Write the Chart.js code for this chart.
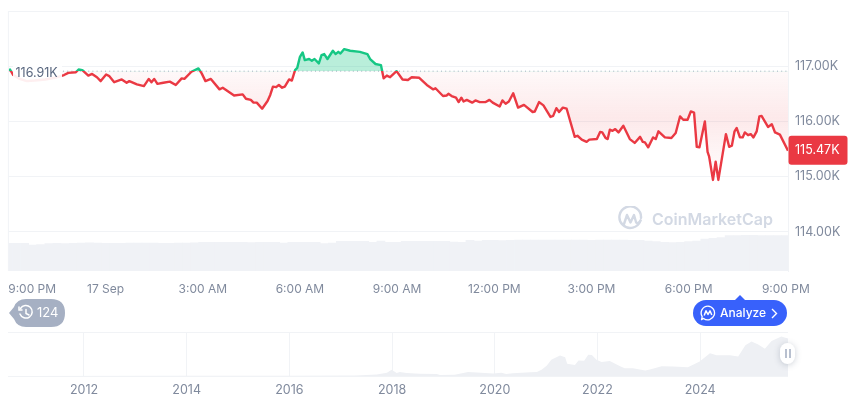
<!DOCTYPE html>
<html>
<head>
<meta charset="utf-8">
<script src="https://cdn.jsdelivr.net/npm/chart.js@4"></script>
<style>
  body { margin:0; background:#fff; width:860px; height:401px; overflow:hidden; position:relative; font-family:Inter,sans-serif; }
  canvas { position:absolute; left:0; display:block; }
  #priceChart { top:0; }
  #historyChart { top:300px; }
  .abs { position:absolute; }
  #watermark { left:617px; top:205px; height:27px; display:flex; align-items:center; gap:9px; color:#d3d9e4; font-size:16px; font-weight:600; white-space:nowrap; }
  #badge { left:9px; top:299px; width:56px; height:28px; }
  #badgeText { left:37px; top:299px; line-height:27px; color:#fff; font-size:13px; }
  #analyze { left:693px; top:300px; width:94px; height:26px; border-radius:13px; background:#3861fb; color:#fff; font-size:12px; font-weight:500; line-height:26px; }
  #analyze span { position:absolute; left:27px; }
  #caret { left:735px; top:295px; width:0; height:0; border-left:5px solid transparent; border-right:5px solid transparent; border-bottom:5px solid #3861fb; }
  #handle { left:780px; top:343px; width:15px; height:21px; border-radius:8px; background:#fff; box-shadow:0 1px 6px rgba(88,102,126,.3); }
  #handle i { position:absolute; top:6px; width:2px; height:9px; background:#b8c0cf; }
</style>
</head>
<body>
<canvas id="priceChart" width="860" height="300"></canvas>
<canvas id="historyChart" width="860" height="101"></canvas>

<div id="watermark" class="abs">
  <svg width="26" height="26" viewBox="0 0 26 26" fill="none" stroke="#d3d9e4" stroke-width="2.4" stroke-linecap="round" stroke-linejoin="round"><path d="M23.5 14.5A10.8 10.8 0 1 1 24 12"/><path d="M7 18l3-9 3.5 7.5L17 9l2 7c.8 2 3 1.5 4.5-1.5"/></svg>
  <span>CoinMarketCap</span>
</div>

<svg id="badge" class="abs" viewBox="0 0 56 28"><path d="M0 14L5 8Q8 0 17 0H42Q56 0 56 14T42 28H17Q8 28 5 20Z" fill="#a6b0c3"/><g fill="none" stroke="#fff" stroke-width="1.5" stroke-linecap="round"><path d="M11.5 9.5A6.3 6.3 0 1 1 11 15"/><path d="M17 10.5V14.5L20 16"/><path d="M10 8V11H13"/></g></svg>
<div id="badgeText" class="abs">124</div>

<div id="caret" class="abs"></div>
<div id="analyze" class="abs">
  <svg class="abs" style="left:7px;top:5px" width="16" height="16" viewBox="0 0 16 16" fill="none" stroke="#fff" stroke-width="1.3" stroke-linejoin="round"><path d="M8 1.2A6.8 6.8 0 1 1 3.6 13.4L1.5 14.6 2.2 11.6A6.8 6.8 0 0 1 8 1.2Z"/><path d="M4.2 10.5L6 5.8 8 9.5 10 5.8 11.8 10" stroke-width="1.5"/></svg>
  <span>Analyze</span>
  <svg class="abs" style="left:77px;top:8px" width="8" height="11" viewBox="0 0 8 11" fill="none" stroke="#fff" stroke-width="1.4"><path d="M2 1l4.5 4.5L2 10"/></svg>
</div>

<div id="handle" class="abs"><i style="left:5px"></i><i style="left:8.5px"></i></div>

<script>
// minutes since 9:00 PM
const priceMinutes = [0,3,9,21,34,49,68,86,97,103,111,125,130,137,148,155,164,171,181,187,196,210,219,224,238,251,260,265,270,276,287,299,310,321,326,339,352,358,365,375,391,397,418,434,440,449,454,460,470,480,485,490,496,501,507,512,520,525,531,535,540,545,549,557,562,567,575,580,585,591,601,606,611,615,622,633,651,665,670,680,690,695,701,707,719,730,740,747,761,775,787,791,805,812,815,821,829,834,839,843,849,859,865,873,884,891,897,910,915,921,927,935,944,955,971,975,983,991,1004,1009,1015,1020,1027,1034,1049,1054,1062,1071,1076,1090,1096,1100,1106,1110,1114,1119,1124,1130,1139,1151,1160,1170,1175,1179,1185,1194,1199,1204,1216,1228,1236,1244,1250,1258,1264,1270,1275,1280,1290,1295,1298,1305,1310,1315,1329,1335,1340,1345,1349,1355,1360,1364,1370,1375,1380,1386,1391,1395,1407,1414,1420,1429,1444];
// price in thousands
const priceValues = [116.93,116.94,116.84,116.77,116.73,116.74,116.76,116.79,116.82,116.84,116.88,116.89,116.94,116.93,116.83,116.86,116.80,116.73,116.85,116.82,116.71,116.76,116.70,116.73,116.67,116.64,116.77,116.71,116.77,116.68,116.70,116.72,116.66,116.78,116.77,116.90,116.96,116.87,116.73,116.77,116.58,116.61,116.47,116.49,116.41,116.39,116.34,116.34,116.23,116.37,116.48,116.63,116.62,116.66,116.61,116.63,116.76,116.74,116.93,116.97,117.17,117.25,117.11,117.13,117.10,117.13,117.05,117.20,117.22,117.13,117.28,117.22,117.26,117.23,117.31,117.28,117.26,117.22,117.13,117.04,117.02,116.78,116.83,116.80,116.91,116.76,116.75,116.80,116.79,116.66,116.58,116.60,116.46,116.47,116.50,116.46,116.43,116.35,116.43,116.36,116.39,116.34,116.38,116.35,116.35,116.39,116.34,116.27,116.38,116.32,116.36,116.51,116.25,116.30,116.17,116.18,116.35,116.29,116.08,116.10,116.24,116.17,116.25,116.23,115.72,115.74,115.67,115.63,115.67,115.68,115.81,115.80,115.70,115.68,115.85,115.83,115.86,115.80,115.92,115.68,115.61,115.72,115.63,115.62,115.53,115.71,115.68,115.82,115.71,115.70,115.79,116.09,116.03,116.03,116.18,116.16,115.54,115.53,116.00,115.45,115.36,114.94,115.27,114.94,115.77,115.54,115.56,115.82,115.88,115.71,115.71,115.80,115.75,115.77,115.71,115.82,116.09,116.10,115.90,115.95,115.80,115.76,115.47];
const basePrice = 116.91;
const lastPrice = 115.47;

// one volume bar per 15 minutes, in billions
const volumeStep = 15;
const volumeValues = [41.5,41.6,41.4,39,39.5,41,41.5,41.2,41.6,42,42.2,42,41.6,41.4,41.5,41.8,42,42,41.7,41.5,41.6,41.8,42,42.2,43,43,43,43,43,43,42.8,43,43,43,42,43,43,43,43,41,42,44.5,44.5,44.5,44.5,43,44.8,43,43,44.5,44.5,44.5,44.5,44.5,44.5,43.2,43,46,45,46,46,45.5,46,46.2,46.5,46.5,46.2,46.5,46.5,46.2,46.5,46.5,46,46.2,46.5,46.5,46.2,46,46,45,44,43,42.7,43,44,45,48,49,50,53,53.2,53.5,53.5,53.2,53,53.2,53];

const yTicks = [114,115,116,117,118];
const xTickMinutes = [44,180,360,540,720,900,1080,1260,1440];
const xTickLabels = ['9:00 PM','17 Sep','3:00 AM','6:00 AM','9:00 AM','12:00 PM','3:00 PM','6:00 PM','9:00 PM'];

// all-time minimap
const historyYears = [2010.52,2013.9,2016,2017.3,2017.7,2017.9,2017.99,2018.09,2018.15,2018.28,2018.54,2018.87,2018.93,2019.22,2019.48,2019.65,2019.97,2020.13,2020.22,2020.35,2020.69,2020.82,2020.91,2021.01,2021.1,2021.27,2021.37,2021.41,2021.56,2021.63,2021.74,2021.82,2021.89,2021.98,2022.08,2022.24,2022.44,2022.53,2022.69,2022.93,2023.02,2023.25,2023.47,2023.76,2023.99,2024.19,2024.32,2024.58,2024.74,2024.88,2025,2025.13,2025.26,2025.39,2025.58,2025.71];
const historyValues = [0,1,0.4,1.2,5,10,19.6,9.3,12,9,7,6,3.2,4,12,11,7.5,10,6,8.5,11.5,12.5,19,32,50,63,58,38,34,48,47,66,65,50,43,46,30,24,24,17,20,30,29,27,45,70,64,64,60,95,107,97,84,108,122,116];
const yearTicks = [2012,2014,2016,2018,2020,2022,2024];

const RED = '#ea3943', GREEN = '#16c784', GRID = '#f1f3f6', LABEL = '#808a9d';
const tickFont = { family:'Inter', size:12.5 };

// scales otherwise push the plot in by half a tick label
function noScalePadding(s){
  s.paddingTop = s.paddingBottom = s.paddingLeft = s.paddingRight = 0;
}

const priceLabels = {
  id:'priceLabels',
  afterDatasetsDraw(chart){
    const { ctx, chartArea, scales } = chart;
    ctx.save();
    // left edge of the plot
    ctx.strokeStyle = GRID;
    ctx.beginPath();
    ctx.moveTo(chartArea.left, chartArea.top);
    ctx.lineTo(chartArea.left, chartArea.bottom);
    ctx.stroke();

    ctx.font = '12.5px Inter';
    ctx.textBaseline = 'middle';

    // open price label sits on the dotted line
    const yBase = scales.y.getPixelForValue(basePrice);
    ctx.fillStyle = 'rgba(255,255,255,.92)';
    ctx.fillRect(13, yBase - 10, 49, 22);
    ctx.fillStyle = '#58667e';
    ctx.fillText(basePrice.toFixed(2) + 'K', 15.5, yBase + 2);

    // last price tag
    const yLast = scales.y.getPixelForValue(lastPrice);
    ctx.fillStyle = RED;
    ctx.beginPath();
    ctx.roundRect(788.5, yLast - 15, 59, 29, 3);
    ctx.fill();
    ctx.fillStyle = '#fff';
    ctx.fillText(lastPrice.toFixed(2) + 'K', 795, yLast);
    ctx.restore();
  }
};

const priceChart = new Chart(document.getElementById('priceChart'), {
  type:'line',
  data:{
    datasets:[
      { label:'Price', order:1, data:priceMinutes.map((m,i)=>({x:m,y:priceValues[i]})), borderWidth:2.4, borderColor:RED, pointRadius:0, tension:0, borderJoinStyle:'round',
        fill:{ target:{value:basePrice}, above:'rgba(22,199,132,.3)', below:'rgba(234,57,67,.08)' } },
      { label:'Open', order:2, data:[{x:0,y:basePrice},{x:1444,y:basePrice}], borderWidth:1, borderColor:'#a6b0c3', borderDash:[1,3.2], pointRadius:0, fill:false },
      { label:'Volume', type:'bar', order:3, yAxisID:'yVol', data:volumeValues.map((v,i)=>({x:i*volumeStep,y:v})), backgroundColor:'#f0f2f6', categoryPercentage:1, barPercentage:1 }
    ]
  },
  options:{
    responsive:false,
    animation:false,
    layout:{ autoPadding:false, padding:{ left:8.4, top:11 } },
    plugins:{ legend:{display:false}, tooltip:{enabled:false} },
    scales:{
      x:{
        type:'linear', min:0, max:1444, offset:false,
        grid:{display:false, drawTicks:false}, border:{display:false},
        afterBuildTicks:s=>{ s.ticks = xTickMinutes.map(value=>({value})); },
        afterFit:s=>{ s.height = 29; noScalePadding(s); },
        ticks:{ autoSkip:false, maxRotation:0, padding:11, color:LABEL, font:{ family:'Inter', size:12 }, callback:(v,i)=>xTickLabels[i] }
      },
      y:{
        position:'right', min:113.29, max:118,
        grid:{color:GRID, drawTicks:false}, border:{color:GRID},
        afterBuildTicks:s=>{ s.ticks = yTicks.map(value=>({value})); },
        afterFit:s=>{ s.width = 72; noScalePadding(s); },
        ticks:{ padding:7, color:LABEL, font:tickFont, callback:v=>v===118 ? '' : v.toFixed(2)+'K' }
      },
      yVol:{ display:false, min:0, max:390 }
    }
  },
  plugins:[priceLabels]
});

// split line and fill colours at the open price
{
  const { ctx, scales } = priceChart;
  const top = scales.y.top, bottom = scales.y.bottom;
  const stop = (scales.y.getPixelForValue(basePrice) - top) / (bottom - top);
  const line = ctx.createLinearGradient(0, top, 0, bottom);
  line.addColorStop(0, GREEN);
  line.addColorStop(stop, GREEN);
  line.addColorStop(stop, RED);
  line.addColorStop(1, RED);
  const y0 = scales.y.getPixelForValue(basePrice);
  const below = ctx.createLinearGradient(0, y0, 0, scales.y.getPixelForValue(114.9));
  below.addColorStop(0, 'rgba(234,57,67,.03)');
  below.addColorStop(0.42, 'rgba(234,57,67,.11)');
  below.addColorStop(1, 'rgba(234,57,67,0)');
  const ds = priceChart.data.datasets[0];
  ds.borderColor = line;
  ds.fill.below = below;
  priceChart.update('none');
}

new Chart(document.getElementById('historyChart'), {
  type:'line',
  data:{
    datasets:[
      { label:'History', data:historyYears.map((t,i)=>({x:t,y:historyValues[i]})), borderWidth:0, pointRadius:0, tension:0, fill:'origin', backgroundColor:'#eef0f4' }
    ]
  },
  options:{
    responsive:false,
    animation:false,
    layout:{ autoPadding:false, padding:{ left:8, right:72, top:32 } },
    plugins:{ legend:{display:false}, tooltip:{enabled:false} },
    scales:{
      x:{
        type:'linear', min:2010.52, max:2025.71,
        grid:{color:GRID, drawTicks:false}, border:{display:false},
        afterBuildTicks:s=>{ s.ticks = yearTicks.map(value=>({value})); },
        afterFit:s=>{ s.height = 25; noScalePadding(s); },
        ticks:{ padding:7, maxRotation:0, autoSkip:false, color:LABEL, font:tickFont, callback:v=>String(v) }
      },
      y:{
        min:0, max:136,
        grid:{color:GRID, drawTicks:false}, border:{display:false},
        afterBuildTicks:s=>{ s.ticks = [{value:0},{value:136}]; },
        afterFit:s=>{ s.width = 0; noScalePadding(s); },
        ticks:{display:false}
      }
    }
  }
});
</script>
</body>
</html>
